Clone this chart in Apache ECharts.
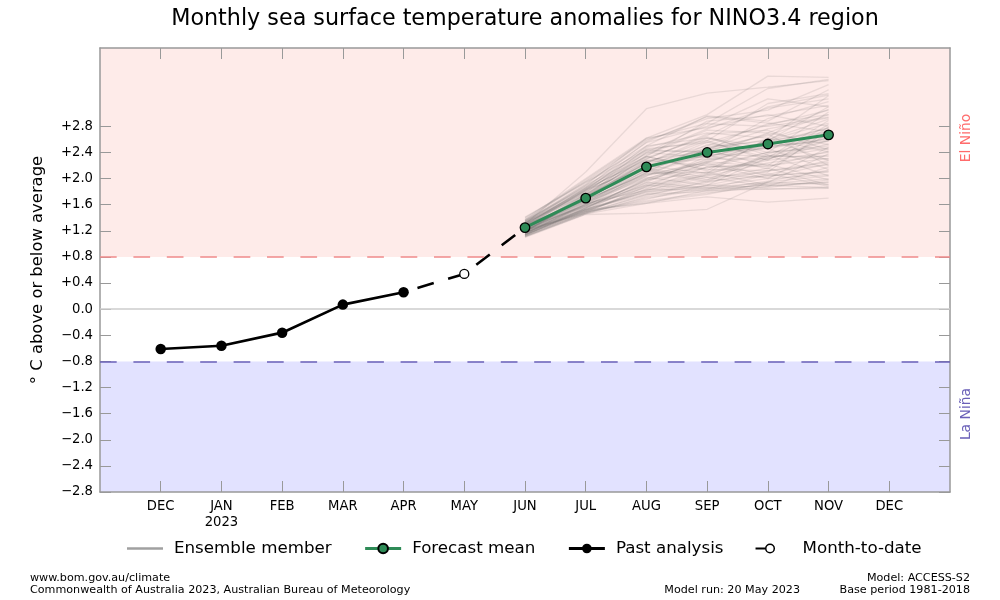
<!DOCTYPE html>
<html>
<head>
<meta charset="utf-8">
<style>html,body{margin:0;padding:0;background:#fff}#Chart{width:1000px;height:600px}</style>
<script src="https://cdn.jsdelivr.net/npm/echarts@6/dist/echarts.min.js"></script>
</head>
<body>
<div id="Chart"></div>
<script>
// month axis: 0 = DEC 2022 ... 12 = DEC 2023
var months = ["DEC","JAN\n2023","FEB","MAR","APR","MAY","JUN","JUL","AUG","SEP","OCT","NOV","DEC"];
var monthTicks = [0,1,2,3,4,5,6,7,8,9,10,11,12];
var yTicks = [-2.8,-2.4,-2.0,-1.6,-1.2,-0.8,-0.4,0,0.4,0.8,1.2,1.6,2.0,2.4,2.8];
var yTickLabels = ["\u22122.8","\u22122.4","\u22122.0","\u22121.6","\u22121.2","\u22120.8","\u22120.4","0.0","+0.4","+0.8","+1.2","+1.6","+2.0","+2.4","+2.8"];

var pastMonths = [0,1,2,3,4];
var pastValues = [-0.61,-0.56,-0.36,0.07,0.26];
var dateMonths = [4,5,6];
var dateValues = [0.26,0.54,1.25];
var forecastMonths = [6,7,8,9,10,11];
var forecastValues = [1.25,1.70,2.18,2.40,2.53,2.67];

// ensemble members, JUN..NOV
var ensembleMembers = [
	[1.30,2.10,3.07,3.31,3.40,3.50],
	[1.38,2.00,2.62,2.98,3.57,3.55],
	[1.36,1.98,2.60,2.85,3.38,3.52],
	[1.40,1.96,2.58,2.92,3.05,3.44],
	[1.34,1.92,2.55,2.80,3.22,3.10],
	[1.37,1.95,2.50,2.96,2.88,3.36],
	[1.32,1.90,2.62,2.78,2.98,2.80],
	[1.41,1.94,2.44,2.58,3.15,3.30],
	[1.33,1.88,2.48,2.70,2.62,3.27],
	[1.29,1.86,2.56,2.95,2.85,2.72],
	[1.35,1.90,2.38,2.76,3.08,3.22],
	[1.31,1.84,2.42,2.42,2.92,3.18],
	[1.27,1.82,2.50,2.62,2.48,2.60],
	[1.36,1.87,2.34,2.88,2.96,3.12],
	[1.30,1.80,2.40,2.32,2.58,3.10],
	[1.25,1.83,2.30,2.68,2.74,2.44],
	[1.33,1.78,2.46,2.55,2.82,3.05],
	[1.28,1.85,2.28,2.20,2.40,3.02],
	[1.22,1.76,2.36,2.74,2.70,2.52],
	[1.31,1.79,2.26,2.50,2.84,2.98],
	[1.26,1.74,2.32,2.64,2.36,2.30],
	[1.34,1.81,2.22,2.46,2.76,2.93],
	[1.20,1.72,2.34,2.12,2.60,2.91],
	[1.29,1.77,2.18,2.56,2.32,2.89],
	[1.24,1.70,2.28,2.42,2.68,2.20],
	[1.32,1.75,2.14,2.48,2.58,2.85],
	[1.18,1.73,2.24,2.58,2.28,2.83],
	[1.27,1.68,2.20,2.08,2.62,2.41],
	[1.23,1.71,2.12,2.44,2.20,2.79],
	[1.30,1.66,2.26,2.34,2.56,2.77],
	[1.21,1.69,2.16,2.02,2.10,2.75],
	[1.26,1.64,2.10,2.52,2.46,2.14],
	[1.19,1.72,2.22,2.30,2.52,2.71],
	[1.28,1.67,2.08,2.36,2.15,2.69],
	[1.16,1.62,2.18,2.44,2.60,2.28],
	[1.25,1.65,2.04,2.28,2.48,2.65],
	[1.22,1.60,2.14,1.98,2.38,2.63],
	[1.29,1.68,2.06,2.24,2.05,2.10],
	[1.17,1.58,2.10,2.38,2.34,2.59],
	[1.24,1.63,2.00,2.26,2.50,2.57],
	[1.20,1.66,2.12,1.95,2.36,2.04],
	[1.27,1.59,1.96,2.30,2.30,2.53],
	[1.15,1.61,2.06,2.16,2.40,2.50],
	[1.23,1.56,1.98,2.22,2.00,2.48],
	[1.19,1.64,2.02,1.90,2.32,2.46],
	[1.26,1.57,1.92,2.18,2.22,1.98],
	[1.14,1.54,2.00,2.26,2.18,2.42],
	[1.21,1.60,1.90,2.08,2.28,2.40],
	[1.18,1.52,1.94,1.86,1.94,2.38],
	[1.24,1.58,1.86,2.04,2.24,2.36],
	[1.13,1.55,1.98,2.10,1.90,1.94],
	[1.20,1.50,1.84,2.18,2.20,2.31],
	[1.16,1.56,1.90,1.84,2.06,2.28],
	[1.22,1.53,1.80,1.98,2.16,1.90],
	[1.12,1.48,1.88,2.06,2.02,2.23],
	[1.19,1.54,1.78,1.94,2.12,2.21],
	[1.15,1.50,1.82,2.02,1.88,2.18],
	[1.21,1.47,1.76,1.90,2.08,1.88],
	[1.13,1.52,1.84,1.82,1.96,2.13],
	[1.18,1.49,1.74,1.96,2.04,2.11],
	[1.11,1.46,1.72,1.86,1.84,1.87],
	[1.17,1.51,1.80,1.88,2.00,2.06],
	[1.10,1.45,1.47,1.53,1.95,2.04],
	[1.14,1.48,1.70,1.84,1.90,1.86],
	[1.16,1.53,1.76,1.80,1.92,2.00],
	[1.12,1.47,1.68,1.90,1.86,1.98],
	[1.15,1.50,1.66,1.78,1.88,1.95],
	[1.11,1.46,1.62,1.82,1.84,1.85],
	[1.13,1.49,1.64,1.76,1.94,1.91],
	[1.14,1.52,1.62,1.72,1.64,1.70],
	[1.28,1.76,2.30,2.66,3.10,3.28],
	[1.24,1.74,2.40,2.84,2.80,2.94],
	[1.32,1.83,2.16,2.36,2.70,3.06],
	[1.18,1.60,1.94,2.34,2.52,2.78],
	[1.22,1.67,2.08,2.10,2.30,2.58],
	[1.35,1.85,2.44,2.40,2.46,2.62],
	[1.16,1.55,1.88,2.24,2.58,2.72],
	[1.26,1.72,2.24,2.62,2.40,2.47],
	[1.20,1.62,1.82,2.06,2.34,2.34],
	[1.30,1.82,2.34,2.14,2.12,2.25],
	[1.19,1.58,2.04,2.46,2.66,2.98]
];

function pairs(xs, ys){
	return xs.map(function(x,i){ return [x, ys[i]] })
}

var ensembleSeries = ensembleMembers.map(function(row){
	return {
		name:"Ensemble member",
		type:"line",
		z:3,
		symbol:"none",
		silent:true,
		lineStyle:{color:"rgba(85,85,80,0.12)",width:1.3},
		itemStyle:{color:"#a0a0a0"},
		data:pairs(forecastMonths,row)
	}
})

var Echarts = echarts.init(document.getElementById("Chart"))
Echarts.setOption({
	animation:false,
	backgroundColor:"#fff",
	textStyle:{fontFamily:"DejaVu Sans"},
	title:{
		text:"Monthly sea surface temperature anomalies for NINO3.4 region",
		left:520,
		top:3,
		textAlign:"center",
		textStyle:{fontSize:22.25,fontWeight:"normal",color:"#000"}
	},
	grid:{left:100,right:50,top:48,bottom:108},
	legend:{
		left:127,
		top:540,
		padding:0,
		itemWidth:36,
		itemHeight:12,
		itemGap:32,
		textStyle:{fontSize:16.7,color:"#000",padding:[0,0,0,6]},
		selectedMode:false,
		data:[
			{name:"Ensemble member",icon:"path://M0 0M0 4.7H36V7.3H0ZM36 12",itemStyle:{color:"#a0a0a0"}},
			{name:"Forecast mean",lineStyle:{width:3}},
			{name:"Past analysis",lineStyle:{width:3}},
			{name:"Month-to-date",icon:"path://M0 0M0 5H11V7H0ZM14.5 1A5 5 0 0 1 14.5 11A5 5 0 0 1 14.5 1ZM14.5 2.5A3.5 3.5 0 0 0 14.5 9.5A3.5 3.5 0 0 0 14.5 2.5ZM36 12",itemStyle:{color:"#000",borderWidth:0}}
		]
	},
	xAxis:[
		{
			type:"value",min:-1,max:13,position:"bottom",z:2,
			splitLine:{show:false},
			axisLine:{onZero:false,lineStyle:{color:"#999",width:1.5}},
			axisTick:{inside:true,length:11,customValues:monthTicks,lineStyle:{color:"#999",width:1}},
			axisLabel:{
				customValues:monthTicks,
				color:"#000",fontSize:13.2,margin:7,lineHeight:16,
				formatter:function(v){ return months[v] }
			}
		},
		{
			type:"value",min:-1,max:13,position:"top",z:2,
			splitLine:{show:false},
			axisLine:{onZero:false,lineStyle:{color:"#999",width:1.5}},
			axisTick:{inside:true,length:11,customValues:monthTicks,lineStyle:{color:"#999",width:1}},
			axisLabel:{show:false}
		}
	],
	yAxis:[
		{
			type:"value",min:-2.8,max:4,position:"left",z:2,
			name:"\u00b0 C above or below average",
			nameLocation:"middle",
			nameGap:54,
			nameTextStyle:{fontSize:16.4,color:"#000"},
			splitLine:{show:false},
			axisLine:{show:true,onZero:false,lineStyle:{color:"#999",width:1.5}},
			axisTick:{show:true,inside:true,length:11,customValues:yTicks,lineStyle:{color:"#999",width:1}},
			axisLabel:{
				customValues:yTicks,
				color:"#000",fontSize:13.2,margin:7,
				formatter:function(v){ return yTickLabels[yTicks.indexOf(v)] }
			}
		},
		{
			type:"value",min:-2.8,max:4,position:"right",z:2,
			splitLine:{show:false},
			axisLine:{show:true,onZero:false,lineStyle:{color:"#999",width:1.5}},
			axisTick:{show:true,inside:true,length:11,customValues:yTicks,lineStyle:{color:"#999",width:1}},
			axisLabel:{show:false}
		}
	],
	series:[
		{
			name:"bands",
			type:"line",
			z:1,
			silent:true,
			symbol:"none",
			data:[],
			markArea:{
				silent:true,
				data:[
					[{yAxis:0.8,itemStyle:{color:"#feebe9"}},{yAxis:4}],
					[{yAxis:-2.8,itemStyle:{color:"#e2e2ff"}},{yAxis:-0.8}]
				]
			},
			markLine:{
				silent:true,
				symbol:"none",
				label:{show:false},
				data:[
					{yAxis:0.8,lineStyle:{color:"#f08a8a",width:1.5,type:[16.7,16.7]}},
					{yAxis:-0.8,lineStyle:{color:"#6a60b8",width:1.5,type:[16.7,16.7]}},
					{yAxis:0,lineStyle:{color:"#cccccc",width:1.5,type:"solid"}}
				]
			}
		}
	].concat(ensembleSeries).concat([
		{
			name:"Forecast mean",
			type:"line",
			z:5,
			symbol:"circle",
			symbolSize:9.5,
			lineStyle:{color:"#2e8b57",width:3},
			itemStyle:{color:"#2e8b57",borderColor:"#000",borderWidth:1.3},
			data:pairs(forecastMonths,forecastValues)
		},
		{
			name:"Past analysis",
			type:"line",
			z:6,
			symbol:"circle",
			symbolSize:10.5,
			lineStyle:{color:"#000",width:2.7},
			itemStyle:{color:"#000"},
			data:pairs(pastMonths,pastValues)
		},
		{
			name:"Month-to-date",
			type:"line",
			z:4,
			symbol:function(v,p){ return p.dataIndex===1 ? "circle" : "none" },
			symbolSize:9,
			lineStyle:{color:"#000",width:2.6,type:[17,15],dashOffset:17.5},
			itemStyle:{color:"#fff",borderColor:"#000",borderWidth:1.3},
			data:pairs(dateMonths,dateValues)
		}
	]),
	graphic:[
		{type:"text",x:966,y:138,rotation:Math.PI/2,style:{text:"El Ni\u00f1o",fontFamily:"DejaVu Sans",fontSize:13.9,fill:"#ff6b6b",align:"center",verticalAlign:"middle"}},
		{type:"text",x:966,y:414,rotation:Math.PI/2,style:{text:"La Ni\u00f1a",fontFamily:"DejaVu Sans",fontSize:13.9,fill:"#6a60b8",align:"center",verticalAlign:"middle"}},
		{type:"text",left:30,top:573,style:{text:"www.bom.gov.au/climate",fontFamily:"DejaVu Sans",fontSize:11.15,fill:"#000"}},
		{type:"text",left:30,top:585,style:{text:"Commonwealth of Australia 2023, Australian Bureau of Meteorology",fontFamily:"DejaVu Sans",fontSize:11.15,fill:"#000"}},
		{type:"text",right:200,top:585,style:{text:"Model run: 20 May 2023",fontFamily:"DejaVu Sans",fontSize:11.15,fill:"#000"}},
		{type:"text",right:30,top:573,style:{text:"Model: ACCESS-S2",fontFamily:"DejaVu Sans",fontSize:11.15,fill:"#000"}},
		{type:"text",right:30,top:585,style:{text:"Base period 1981-2018",fontFamily:"DejaVu Sans",fontSize:11.15,fill:"#000"}}
	]
})
</script>
</body>
</html>
